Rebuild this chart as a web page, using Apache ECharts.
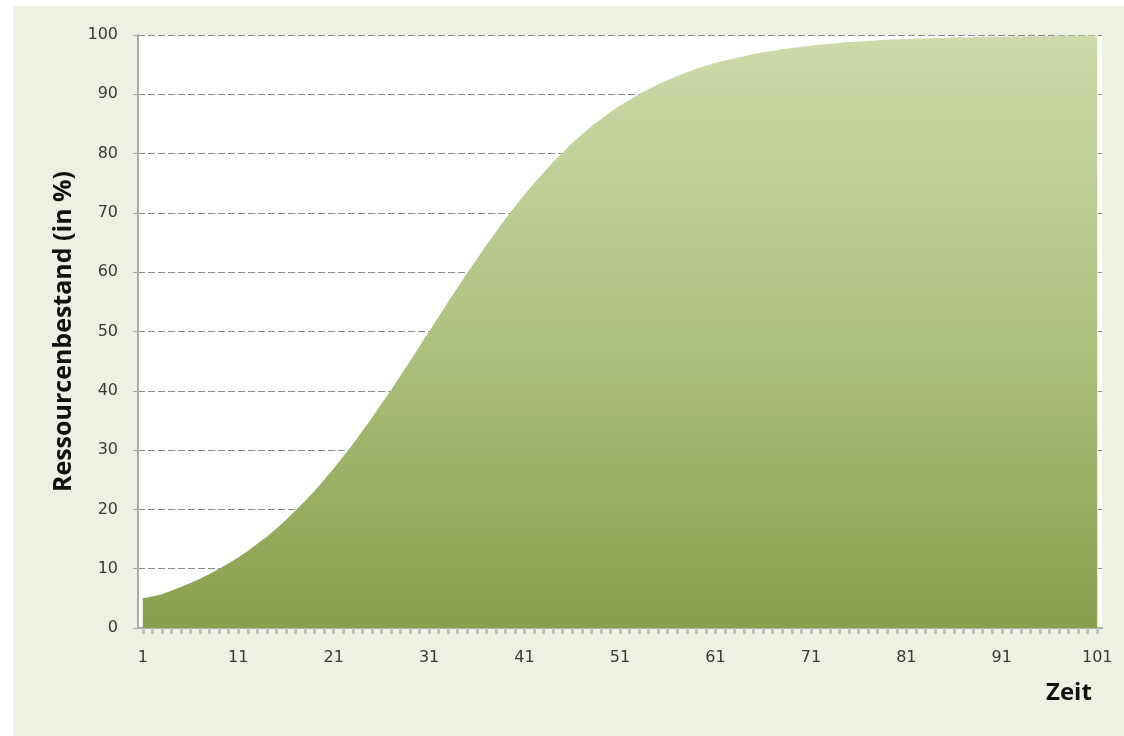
<!DOCTYPE html>
<html>
<head>
<meta charset="utf-8">
<script src="https://cdn.jsdelivr.net/npm/echarts@6/dist/echarts.min.js"></script>
<style>
html,body{margin:0;padding:0;background:#ffffff;}
#chart{width:1124px;height:736px;}
</style>
</head>
<body>
<div id="chart"></div>
<script>
// Time steps 1..101
const categories = [];
for (let i = 1; i <= 101; i++) categories.push(String(i));

// Ressourcenbestand (in %)
const values = [
  5.0, 5.3, 5.7, 6.3, 6.9, 7.6, 8.3, 9.1, 10.0, 10.9,
  11.9, 13.0, 14.2, 15.4, 16.8, 18.2, 19.8, 21.4, 23.1, 25.0,
  26.9, 28.9, 31.0, 33.2, 35.4, 37.8, 40.1, 42.6, 45.0, 47.5,
  50.0, 52.5, 55.0, 57.4, 59.9, 62.2, 64.6, 66.8, 69.0, 71.1,
  73.1, 75.0, 76.8, 78.6, 80.2, 81.8, 83.2, 84.6, 85.8, 87.0,
  88.1, 89.1, 90.0, 90.9, 91.7, 92.4, 93.1, 93.7, 94.3, 94.8,
  95.3, 95.7, 96.1, 96.4, 96.8, 97.1, 97.3, 97.6, 97.8, 98.0,
  98.2, 98.4, 98.5, 98.7, 98.8, 98.9, 99.0, 99.1, 99.2, 99.3,
  99.3, 99.4, 99.4, 99.5, 99.5, 99.6, 99.6, 99.6, 99.7, 99.7,
  99.7, 99.8, 99.8, 99.8, 99.8, 99.8, 99.9, 99.9, 99.9, 99.9, 99.9
];

const yTicks = { min: 0, max: 100, interval: 10 };
const yTitle = 'Ressourcenbestand (in %)';
const xTitle = 'Zeit';

const chart = echarts.init(document.getElementById('chart'), null, { renderer: 'canvas' });
chart.setOption({
  animation: false,
  backgroundColor: '#ffffff',
  graphic: [
    { type: 'rect', z: -10, silent: true, shape: { x: 13, y: 6, width: 1111, height: 730 }, style: { fill: '#eef0e3' } },
    { type: 'text', left: 1046, top: 681, style: { text: xTitle, font: 'bold 24px "Open Sans"', fill: '#111111' } }
  ],
  grid: { left: 138, right: 22, top: 35, bottom: 108, show: true, backgroundColor: '#ffffff', borderWidth: 0, containLabel: false },
  xAxis: {
    type: 'category',
    data: categories,
    boundaryGap: true,
    axisLine: { show: true, lineStyle: { color: '#aaaaaa', width: 2 } },
    axisTick: { show: true, interval: 0, alignWithLabel: true, length: 6, lineStyle: { color: '#c2c2c2', width: 3 } },
    axisLabel: { interval: 9, margin: 22, color: '#3a3a3a', fontFamily: 'DejaVu Sans', fontSize: 16 },
    splitLine: { show: false }
  },
  yAxis: {
    type: 'value',
    min: yTicks.min, max: yTicks.max, interval: yTicks.interval,
    name: yTitle,
    nameLocation: 'middle',
    nameGap: 60,
    nameTextStyle: { fontFamily: 'Open Sans', fontWeight: 'bold', fontSize: 25, color: '#111111' },
    axisLine: { show: true, lineStyle: { color: '#aaaaaa', width: 2 } },
    axisTick: { show: true, length: 5, lineStyle: { color: '#aaaaaa' } },
    axisLabel: { margin: 20, color: '#3a3a3a', fontFamily: 'DejaVu Sans', fontSize: 16 },
    splitLine: { show: true, lineStyle: { color: '#8a8a8a', type: [7, 3], width: 1 } }
  },
  series: [{
    type: 'line',
    data: values,
    symbol: 'none',
    smooth: false,
    lineStyle: { width: 0 },
    areaStyle: {
      opacity: 1,
      color: new echarts.graphic.LinearGradient(0, 0, 0, 1, [
        { offset: 0, color: '#cedaaa' },
        { offset: 0.45, color: '#b3c485' },
        { offset: 1, color: '#899e4d' }
      ])
    }
  }]
});
</script>
</body>
</html>
